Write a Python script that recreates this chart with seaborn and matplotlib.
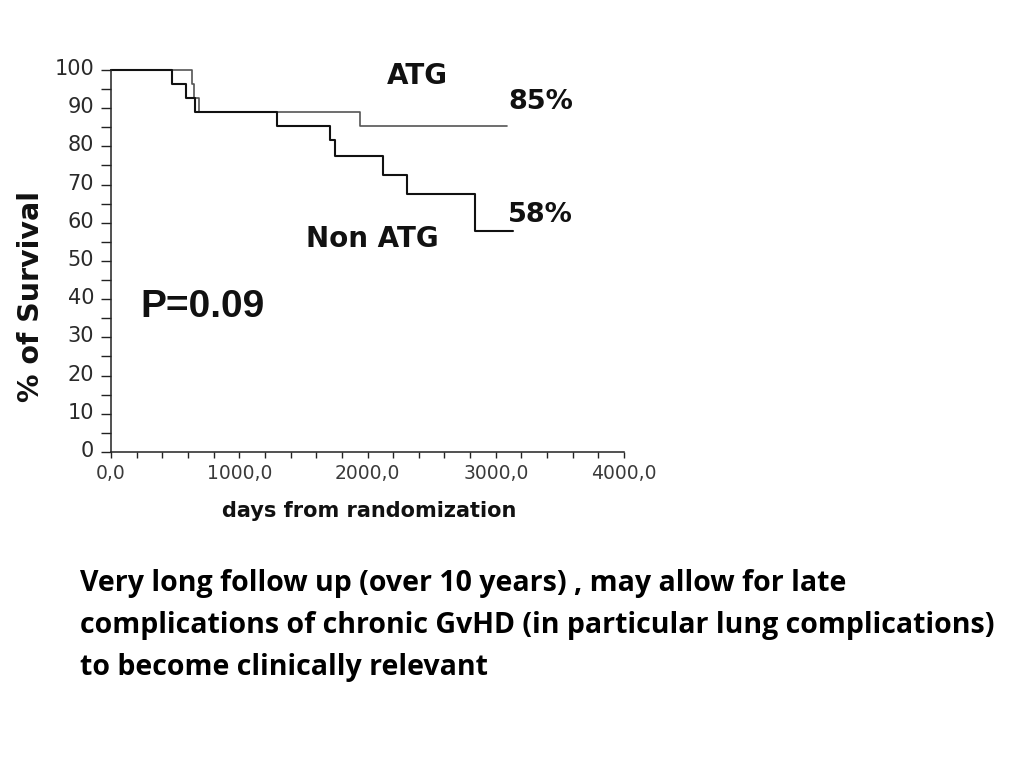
import matplotlib
matplotlib.use("Agg")
import matplotlib.pyplot as plt
import matplotlib.transforms as mtransforms
import seaborn as sns
import pandas as pd
from matplotlib.ticker import MultipleLocator, FixedLocator

# ---- data ----
non_atg_days = [0, 473, 584, 654, 1292, 1708, 1747, 2123, 2305, 2838, 3137]
non_atg_surv = [100, 96.3, 92.6, 89.0, 85.3, 81.7, 77.5, 72.5, 67.5, 57.8, 57.8]
atg_days = [0, 629, 650, 689, 1941, 3090]
atg_surv = [100, 96.3, 92.6, 89.0, 85.3, 85.3]

x_ticks = [0, 1000, 2000, 3000, 4000]
x_tick_labels = ["0,0", "1000,0", "2000,0", "3000,0", "4000,0"]
y_ticks = [0, 10, 20, 30, 40, 50, 60, 70, 80, 90, 100]
y_tick_labels = [str(v) for v in y_ticks]

body_lines = [
    "Very long follow up (over 10 years) , may allow for late",
    "complications of chronic GvHD (in particular lung complications)",
    "to become clinically relevant",
]

sns.set_style("ticks")
plt.rcParams["font.family"] = ["DejaVu Sans"]

fig = plt.figure(figsize=(10.24, 7.68), dpi=100)
ax = fig.add_axes([0.1084, 0.4115, 0.501, 0.4974])

df_non = pd.DataFrame({"days": non_atg_days, "surv": non_atg_surv})
df_atg = pd.DataFrame({"days": atg_days, "surv": atg_surv})

sns.lineplot(data=df_atg, x="days", y="surv", ax=ax, drawstyle="steps-post",
             color="#555555", linewidth=1.2, estimator=None, sort=False, clip_on=False)
sns.lineplot(data=df_non, x="days", y="surv", ax=ax, drawstyle="steps-post",
             color="#111111", linewidth=1.5, estimator=None, sort=False, clip_on=False)

ax.set_xlim(0, 4000)
ax.set_ylim(0, 100)
ax.xaxis.set_major_locator(FixedLocator(x_ticks))
ax.set_xticklabels(x_tick_labels)
ax.xaxis.set_minor_locator(MultipleLocator(200))
ax.yaxis.set_major_locator(FixedLocator(y_ticks))
ax.set_yticklabels(y_tick_labels)
ax.yaxis.set_minor_locator(MultipleLocator(5))

ax.tick_params(axis="y", which="both", direction="out", length=7.2, width=1.0,
               color="#222222", pad=5)
ax.tick_params(axis="x", which="both", direction="out", length=4.5, width=1.0,
               color="#222222", pad=4)

up = mtransforms.ScaledTranslation(0, 3 / 100, fig.dpi_scale_trans)
for lbl in ax.get_xticklabels():
    lbl.set_family("DejaVu Sans")
    lbl.set_fontsize(13.5)
    lbl.set_color("#3a3a3a")
for lbl in ax.get_yticklabels():
    lbl.set_family("DejaVu Sans")
    lbl.set_fontsize(15)
    lbl.set_color("#2a2a2a")
    lbl.set_transform(lbl.get_transform() + up)

sns.despine(ax=ax)
for s in ["left", "bottom"]:
    ax.spines[s].set_linewidth(1.1)
    ax.spines[s].set_color("#222222")

ax.set_xlabel("")
ax.set_ylabel("")

fig.text(369 / 1024, 1 - 511 / 768, "days from randomization", ha="center", va="center",
         fontsize=15, fontweight="bold", color="#111111")
fig.text(31 / 1024, 1 - 296 / 768, "% of Survival", ha="center", va="center",
         rotation=90, fontsize=20.5, fontweight="bold", color="#111111")

ax.text(2386, 98.4, "ATG", ha="center", va="center", fontsize=20, fontweight="bold", color="#111111")
ax.text(3353, 91.6, "85%", ha="center", va="center", fontsize=19.5, fontweight="bold", color="#111111")
ax.text(3345, 62.0, "58%", ha="center", va="center", fontsize=19.5, fontweight="bold", color="#111111")
ax.text(2035, 55.8, "Non ATG", ha="center", va="center", fontsize=20, fontweight="bold", color="#111111")
ax.text(717, 38.0, "P=0.09", ha="center", va="center", fontsize=28, fontweight="bold",
        family="Liberation Sans", color="#111111")

for line, yc in zip(body_lines, [583, 625, 667]):
    fig.text(80 / 1024, 1 - yc / 768, line, ha="left", va="center", fontsize=20.5,
             fontweight="bold", family="Open Sans", color="#000000")

fig.savefig("out.png", dpi=100, facecolor="white")
